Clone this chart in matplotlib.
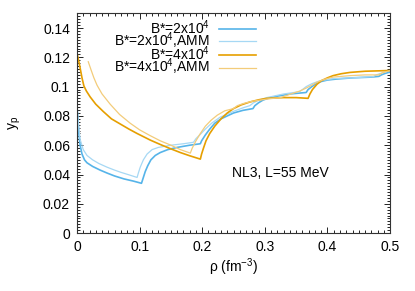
import numpy as np
import matplotlib
matplotlib.use('Agg')
import matplotlib.pyplot as plt
from matplotlib.ticker import MultipleLocator

# --- data ---
rho_b2 = [0.0, 0.0015, 0.003, 0.005, 0.008, 0.012, 0.016, 0.025, 0.037, 0.048, 0.060, 0.075,
          0.090, 0.103, 0.106, 0.109, 0.113, 0.118, 0.125, 0.133, 0.145, 0.160, 0.180, 0.197,
          0.199, 0.205, 0.212, 0.220, 0.230, 0.240, 0.250, 0.265, 0.281, 0.284, 0.290, 0.297,
          0.305, 0.320, 0.340, 0.366, 0.369, 0.375, 0.382, 0.390, 0.400, 0.415, 0.440, 0.470,
          0.482, 0.486, 0.492, 0.500]
yp_b2 = [0.086, 0.078, 0.068, 0.060, 0.054, 0.050, 0.048, 0.0455, 0.043, 0.041, 0.039, 0.037,
         0.0355, 0.034, 0.038, 0.042, 0.046, 0.050, 0.053, 0.055, 0.057, 0.0585, 0.060, 0.061,
         0.063, 0.067, 0.071, 0.075, 0.078, 0.080, 0.082, 0.0838, 0.085, 0.087, 0.089, 0.0908,
         0.092, 0.0935, 0.095, 0.096, 0.098, 0.100, 0.102, 0.1035, 0.1045, 0.1052, 0.106, 0.1065,
         0.107, 0.108, 0.109, 0.110]

rho_b2_amm = [0.0, 0.002, 0.005, 0.010, 0.016, 0.025, 0.035, 0.048, 0.060, 0.070, 0.085, 0.096,
              0.098, 0.101, 0.106, 0.112, 0.120, 0.130, 0.150, 0.170, 0.186, 0.190, 0.196, 0.205,
              0.215, 0.228, 0.249, 0.265, 0.276, 0.282, 0.292, 0.303, 0.330, 0.355, 0.360, 0.366,
              0.375, 0.388, 0.410, 0.440, 0.473, 0.478, 0.488, 0.500]
yp_b2_amm = [0.086, 0.076, 0.064, 0.057, 0.053, 0.050, 0.0475, 0.045, 0.043, 0.0415, 0.0395, 0.038,
             0.041, 0.045, 0.050, 0.054, 0.057, 0.0585, 0.060, 0.061, 0.062, 0.0645, 0.067, 0.071,
             0.075, 0.079, 0.083, 0.0855, 0.087, 0.089, 0.091, 0.0925, 0.095, 0.0965, 0.098, 0.100,
             0.102, 0.104, 0.1055, 0.106, 0.1068, 0.108, 0.1095, 0.111]

rho_b4 = [0.0, 0.004, 0.008, 0.011, 0.015, 0.021, 0.030, 0.042, 0.055, 0.069, 0.083, 0.096,
          0.117, 0.133, 0.150, 0.165, 0.180, 0.197, 0.199, 0.202, 0.206, 0.212, 0.220, 0.230,
          0.240, 0.250, 0.262, 0.276, 0.290, 0.303, 0.330, 0.350, 0.369, 0.372, 0.376, 0.383,
          0.390, 0.400, 0.409, 0.422, 0.436, 0.460, 0.500]
yp_b4 = [0.123, 0.115, 0.106, 0.1005, 0.097, 0.093, 0.088, 0.083, 0.078, 0.0745, 0.071, 0.068,
         0.0635, 0.0605, 0.0575, 0.055, 0.0528, 0.0505, 0.054, 0.058, 0.063, 0.068, 0.073, 0.078,
         0.082, 0.085, 0.0875, 0.0895, 0.091, 0.092, 0.0925, 0.0925, 0.092, 0.095, 0.098, 0.1015,
         0.104, 0.106, 0.1075, 0.1088, 0.1097, 0.1105, 0.111]

rho_b4_amm = [0.018, 0.022, 0.027, 0.032, 0.040, 0.053, 0.068, 0.085, 0.100, 0.117, 0.133, 0.150,
              0.165, 0.181, 0.184, 0.190, 0.197, 0.205, 0.214, 0.224, 0.236, 0.250, 0.256, 0.266,
              0.280, 0.303, 0.325, 0.335, 0.345, 0.356, 0.366, 0.375, 0.383, 0.395, 0.409, 0.436,
              0.460, 0.482, 0.488, 0.500]
yp_b4_amm = [0.117, 0.112, 0.106, 0.101, 0.095, 0.088, 0.081, 0.075, 0.0705, 0.0665, 0.063, 0.060,
             0.057, 0.0546, 0.058, 0.063, 0.068, 0.073, 0.077, 0.0805, 0.0835, 0.085, 0.087, 0.0885,
             0.090, 0.0915, 0.0925, 0.094, 0.0955, 0.097, 0.099, 0.101, 0.103, 0.105, 0.1065, 0.1075,
             0.108, 0.108, 0.1095, 0.111]

labels = ['B*=2x10$^4$', 'B*=2x10$^4$,AMM', 'B*=4x10$^4$', 'B*=4x10$^4$,AMM']

plt.rcParams['font.family'] = ['Liberation Sans', 'DejaVu Sans']
plt.rcParams['mathtext.fontset'] = 'custom'
plt.rcParams['mathtext.rm'] = 'Liberation Sans'
plt.rcParams['mathtext.it'] = 'Liberation Sans:italic'
plt.rcParams['font.size'] = 10

fig = plt.figure(figsize=(4.15, 2.91), dpi=100)
ax = fig.add_axes([0.1855, 0.199, 0.7545, 0.755])

blue, blue_l = '#56b4e9', '#a6d8f4'
orange, orange_l = '#e69f00', '#f3cc7a'

ax.plot(rho_b2, yp_b2, color=blue, lw=1.2, label=labels[0])
ax.plot(rho_b2_amm, yp_b2_amm, color=blue_l, lw=0.9, label=labels[1])
ax.plot(rho_b4, yp_b4, color=orange, lw=1.2, label=labels[2])
ax.plot(rho_b4_amm, yp_b4_amm, color=orange_l, lw=0.9, label=labels[3])

ax.set_xlim(0, 0.5)
ax.set_ylim(0, 0.15)
ax.xaxis.set_minor_locator(MultipleLocator(0.01))
ax.yaxis.set_minor_locator(MultipleLocator(0.002))
ax.set_xticks([0, 0.1, 0.2, 0.3, 0.4, 0.5])
ax.set_xticklabels(['0', '0.1', '0.2', '0.3', '0.4', '0.5'])
ax.set_yticks([0, 0.02, 0.04, 0.06, 0.08, 0.1, 0.12, 0.14])
ax.set_yticklabels(['0', '0.02', '0.04', '0.06', '0.08', '0.1', '0.12', '0.14'])
ax.tick_params(which='both', direction='in', top=True, right=True, width=0.6)
ax.tick_params(which='major', length=4, pad=5)
ax.tick_params(which='minor', length=2)
for s in ax.spines.values():
    s.set_linewidth(0.8)
    s.set_color('#333333')

ax.set_xlabel('ρ (fm$^{-3}$)', labelpad=2)
ax.set_ylabel('y$_\\mathrm{p}$', labelpad=14)

ax.text(0.324, 0.041, 'NL3, L=55 MeV', ha='center', va='center', fontsize=10)

ax.legend(loc='upper right', bbox_to_anchor=(0.572, 0.978), markerfirst=False,
          frameon=False, handlelength=2.7, handletextpad=0.6, labelspacing=-0.46,
          borderpad=0, borderaxespad=0, fontsize=10)

fig.savefig('out.png', dpi=100)
